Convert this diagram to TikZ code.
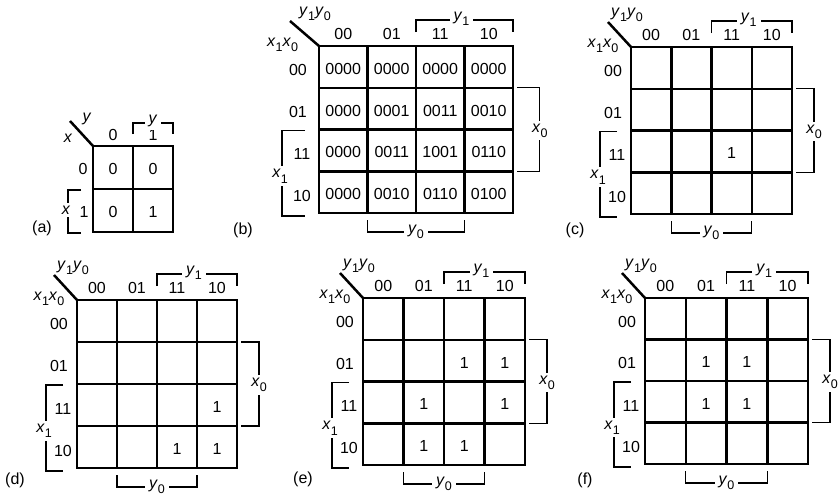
\documentclass[tikz,border=0pt]{standalone}
\usepackage{fontspec}
\setmainfont{Liberation Sans}
\newcommand\vsub[2]{\textit{#1}\raisebox{-0.32em}{\fontsize{12.5}{13}\selectfont #2}}
\tikzset{
 kgrid/.style={line width=2.5pt, line join=miter},
 diag/.style={line width=2.5pt},
 brk/.style={line width=1.1pt},
 lab/.style={font=\fontsize{16}{18}\selectfont, inner sep=0pt},
 blab/.style={lab, fill=white, inner xsep=4pt, inner ysep=3pt},
}
\newcommand\kmap[6]{%
\pgfmathsetmacro\kL{#2}\pgfmathsetmacro\kT{#3}\pgfmathsetmacro\kR{#4}\pgfmathsetmacro\kB{#5}\pgfmathsetmacro\kd{#6}%
\pgfmathsetmacro\kcw{(\kR-\kL)/4}\pgfmathsetmacro\krh{(\kB-\kT)/4}%
\coordinate (#1-nw) at (\kL,\kT);
\coordinate (#1-se) at (\kR,\kB);
\draw[kgrid] (#1-nw) rectangle (#1-se);
\foreach \i in {1,2,3}{%
 \draw[kgrid] ({\kL+\i*\kcw},\kT) -- ({\kL+\i*\kcw},\kB);
 \draw[kgrid] (\kL,{\kT+\i*\krh}) -- (\kR,{\kT+\i*\krh});
}
\foreach \i in {0,...,3}{\foreach \j in {0,...,3}{%
 \coordinate (#1-\i\j) at ({\kL+(\i+0.5)*\kcw},{\kT+(\j+0.5)*\krh+2});}}
\coordinate (#1-dg) at ({\kL-23-\kd},{\kT-25});
\draw[diag] (#1-dg) -- (#1-nw);
\node[lab] (#1-yy) at ({\kL-4},{\kT-32}) {\vsub{y}{1}\vsub{y}{0}};
\node[lab] (#1-xx) at ({\kL-28-1.4*\kd},{\kT-1}) {\vsub{x}{1}\vsub{x}{0}};
\foreach \s [count=\i from 0] in {00,01,11,10}{%
 \node[lab] (#1-c\s) at ({\kL+(\i+0.5)*\kcw},{\kT-12}) {\s};}
\node[lab] (#1-r00) at ({\kL-18-\kd/2},{\kT+0.5*\krh+3}) {00};
\node[lab] (#1-r01) at ({\kL-18-\kd/2},{\kT+1.5*\krh+3}) {01};
\node[lab] (#1-r11) at ({\kL-14-\kd/2},{\kT+2.5*\krh+4}) {11};
\node[lab] (#1-r10) at ({\kL-14-\kd/2},{\kT+3.5*\krh+4}) {10};
% top bracket y1
\draw[brk] ({\kL+2*\kcw},{\kT-14}) |- ({\kR},{\kT-26}) -- ({\kR},{\kT-14});
\node[blab] (#1-y1) at ({\kL+3*\kcw-3},{\kT-27}) {\vsub{y}{1}};
% left bracket x1
\draw[brk] ({\kL-14},{\kT+2*\krh+1}) -| ({\kL-31-\kd},{\kB+3}) -- ({\kL-14},{\kB+3});
\node[blab, inner xsep=1pt] (#1-x1) at ({\kL-33-\kd},{(\kT+2*\krh+\kB)/2+5}) {\vsub{x}{1}};
% right bracket x0
\draw[brk] ({\kR+4},{\kT+\krh}) -| ({\kR+22+0.8*\kd},{\kT+3*\krh}) -- ({\kR+4},{\kT+3*\krh});
\node[blab, inner xsep=1pt] (#1-x0) at ({\kR+22+0.8*\kd},{\kT+2*\krh+1}) {\vsub{x}{0}};
% bottom bracket y0
\draw[brk] ({\kL+\kcw},{\kB+7}) |- ({\kL+3*\kcw},{\kB+19}) -- ({\kL+3*\kcw},{\kB+7});
\node[blab] (#1-y0) at ({\kL+2*\kcw},{\kB+19}) {\vsub{y}{0}};
}
\begin{document}
\begin{tikzpicture}[x=1pt,y=-1pt]
\useasboundingbox (0,0) rectangle (839,496);
% ---------- panel (a)
\coordinate (a-nw) at (93,146);
\coordinate (a-se) at (173,232);
\draw[kgrid] (a-nw) rectangle (a-se);
\draw[kgrid] (133,146) -- (133,232);
\draw[kgrid] (93,189) -- (173,189);
\coordinate (a-dg) at (70,121);
\draw[diag] (a-dg) -- (a-nw);
\node[lab] (a-y) at (87,119) {\textit{y}};
\node[lab] (a-x) at (68,138) {\textit{x}};
\node[lab] (a-c0) at (113,135) {0};
\node[lab] (a-c1) at (153,135) {1};
\draw[brk] (133,134) |- (173,123) -- (173,134);
\node[blab] (a-yb) at (153,121) {\textit{y}};
\node[lab] (a-r0) at (83,169) {0};
\node[lab] (a-r1) at (84,212) {1};
\draw[brk] (81,190) -| (68,233) -- (81,233);
\node[blab, inner xsep=1pt] (a-xb) at (66,210) {\textit{x}};
\node[lab] (a-v00) at (113,169) {0};
\node[lab] (a-v10) at (153,169) {0};
\node[lab] (a-v01) at (113,212) {0};
\node[lab] (a-v11) at (153,212) {1};
\node[lab] (a-lab) at (42,228) {(a)};
% ---------- panels (b)-(f)
\kmap{b}{319}{46}{513}{213}{6}
\kmap{c}{631}{47}{792}{214}{0}
\kmap{d}{77}{300}{237}{468}{0}
\kmap{e}{363}{298}{525}{465}{0}
\kmap{f}{645}{298}{808}{464}{0}
\foreach \t [count=\k from 0] in {0000,0000,0000,0000,0000,0001,0011,0010,0000,0011,1001,0110,0000,0010,0110,0100}{%
 \pgfmathtruncatemacro\ci{mod(\k,4)}\pgfmathtruncatemacro\rj{div(\k,4)}%
 \node[lab] (b-v\k) at (b-\ci\rj) {\t};}
\node[lab] (c-v1) at (c-22) {1};
\node[lab] (d-v1) at (d-32) {1};
\node[lab] (d-v2) at (d-23) {1};
\node[lab] (d-v3) at (d-33) {1};
\node[lab] (e-v1) at (e-21) {1};
\node[lab] (e-v2) at (e-31) {1};
\node[lab] (e-v3) at (e-12) {1};
\node[lab] (e-v4) at (e-32) {1};
\node[lab] (e-v5) at (e-13) {1};
\node[lab] (e-v6) at (e-23) {1};
\node[lab] (f-v1) at (f-11) {1};
\node[lab] (f-v2) at (f-21) {1};
\node[lab] (f-v3) at (f-12) {1};
\node[lab] (f-v4) at (f-22) {1};
\node[lab] (b-lab) at (243,230) {(b)};
\node[lab] (c-lab) at (575,230) {(c)};
\node[lab] (d-lab) at (15,480) {(d)};
\node[lab] (e-lab) at (303,479) {(e)};
\node[lab] (f-lab) at (585,480) {(f)};
\end{tikzpicture}
\end{document}
